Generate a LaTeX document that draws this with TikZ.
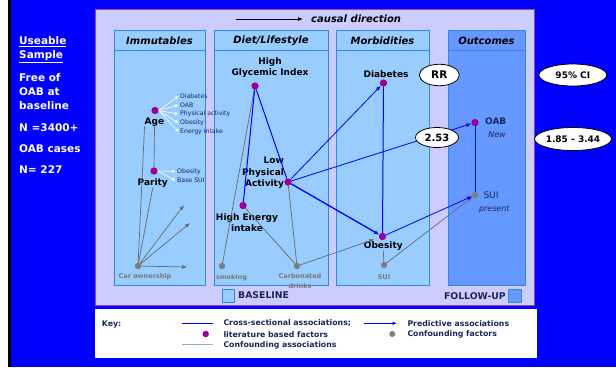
\documentclass[tikz,border=0pt]{standalone}
\usepackage{fontspec}
\setmainfont{DejaVu Sans}
\usetikzlibrary{arrows.meta,shapes.geometric,calc}

\definecolor{bgblue}{RGB}{0,0,255}
\definecolor{lav}{RGB}{204,204,255}
\definecolor{lavedge}{RGB}{160,64,176}
\definecolor{colfill}{RGB}{153,204,255}
\definecolor{coledge}{RGB}{51,136,230}
\definecolor{outfill}{RGB}{102,153,255}
\definecolor{dotpurple}{RGB}{153,0,153}
\definecolor{dotgray}{RGB}{125,125,125}
\definecolor{navy}{RGB}{26,38,90}
\definecolor{lblgray}{RGB}{120,120,120}
\definecolor{confline}{RGB}{105,105,105}

\tikzset{
  colbox/.style={draw=coledge, line width=0.9pt, fill=colfill},
  outbox/.style={draw=coledge, line width=0.9pt, fill=outfill},
  hdr/.style={font=\bfseries\itshape\fontsize{10}{12}\selectfont, inner sep=0pt},
  pdot/.style={circle, fill=dotpurple, inner sep=0pt, minimum size=7pt},
  gdot/.style={circle, fill=dotgray, inner sep=0pt, minimum size=6pt},
  blab/.style={font=\bfseries\fontsize{9}{11.5}\selectfont, align=center, inner sep=0pt},
  slab/.style={font=\fontsize{6.2}{7}\selectfont, text=navy, anchor=west, inner sep=0pt},
  glab/.style={font=\bfseries\fontsize{6.5}{10}\selectfont, text=lblgray, align=center, inner sep=0pt},
  side/.style={font=\bfseries\fontsize{10.5}{12}\selectfont, text=white, anchor=west, inner sep=0pt},
  keytxt/.style={font=\bfseries\fontsize{7.8}{9}\selectfont, text=navy, anchor=west, inner sep=0pt},
  cross/.style={draw=blue, line width=1pt},
  pred/.style={draw=blue, line width=0.8pt, -{Latex[length=5pt,width=4pt]}},
  conf/.style={draw=confline, line width=0.7pt},
  confarr/.style={conf, -{Latex[length=5pt,width=4pt]}},
  warr/.style={draw=white, line width=0.6pt, -{Latex[length=3.5pt,width=3.5pt]}},
  oval/.style={ellipse, draw=black, line width=0.8pt, fill=white, inner sep=0pt,
               font=\bfseries\fontsize{9}{10}\selectfont},
}

\begin{document}
\begin{tikzpicture}[x=1pt,y=-1pt]
\useasboundingbox (0,0) rectangle (616,367);

% page background and left strip
\fill[bgblue] (0,0) rectangle (616,367);
\fill[white] (0,0) rectangle (8,367);
\fill[black] (8,0) rectangle (11,367);

% main panel and key box
\filldraw[fill=lav, draw=lavedge, line width=1pt] (95,9) rectangle (534,305);
\fill[white] (95,309) rectangle (537,358);

% side notes
\node[side] (s1) at (19,42) {\underline{Useable}};
\node[side] (s2) at (19,57) {\underline{Sample}};
\node[side] (s3) at (19,78) {Free of};
\node[side] (s4) at (19,92) {OAB at};
\node[side] (s5) at (19,106) {baseline};
\node[side] (s6) at (19,128) {N =3400+};
\node[side] (s7) at (19,149) {OAB cases};
\node[side] (s8) at (19,170) {N= 227};

% causal direction
\coordinate (cd1) at (236,19);
\coordinate (cd2) at (303,19);
\draw[line width=0.8pt, -{Latex[length=5pt,width=4pt]}] (cd1) -- (cd2);
\node[hdr, anchor=west] (cdt) at (311,19) {causal direction};

% columns
\draw[colbox] (114,30) rectangle (205,285);
\draw[coledge, line width=0.9pt] (114,50) -- (205,50);
\draw[colbox] (214,30) rectangle (328,285);
\draw[coledge, line width=0.9pt] (214,50) -- (328,50);
\draw[colbox] (336,30) rectangle (429,285);
\draw[coledge, line width=0.9pt] (336,50) -- (429,50);
\draw[outbox] (448,30) rectangle (525,285);
\draw[coledge, line width=0.9pt] (448,50) -- (525,50);

\node[hdr] (h1) at (159.5,41) {Immutables};
\node[hdr] (h2) at (271,41) {Diet/Lifestyle};
\node[hdr] (h3) at (382.5,41) {Morbidities};
\node[hdr] (h4) at (486.5,41) {Outcomes};

% baseline / follow-up markers
\draw[colbox] (222,289) rectangle (234,302);
\node[font=\bfseries\fontsize{9.3}{10}\selectfont, text=navy, anchor=west, inner sep=0pt] (bl) at (238,295.5) {BASELINE};
\node[font=\bfseries\fontsize{9.3}{10}\selectfont, text=navy, anchor=east, inner sep=0pt] (fu) at (506,296) {FOLLOW-UP};
\draw[outbox] (508,289) rectangle (521,302);

% ---------- factor dots ----------
\node[pdot] (age) at (155,110.5) {};
\node[pdot] (par) at (154,171) {};
\node[gdot] (car) at (138,266) {};
\node[pdot] (hgi) at (255,86) {};
\node[pdot] (lpa) at (288,182) {};
\node[pdot] (hei) at (243,205.5) {};
\node[gdot] (smk) at (222,266) {};
\node[gdot] (carb) at (297,266) {};
\node[pdot] (dia) at (383.5,83) {};
\node[pdot] (obe) at (382.5,236.5) {};
\node[gdot] (suim) at (384,265) {};
\node[pdot] (oab) at (475,122.5) {};
\node[gdot] (suio) at (475,195) {};

% ---------- labels ----------
\node[blab] (agel) at (154.5,122) {Age};
\node[blab] (parl) at (152.7,183.3) {Parity};
\node[glab] (carl) at (145,277) {Car ownership};
\node[blab] (hgil) at (270,67.5) {High\\Glycemic Index};
\node[blab, align=right] (lpal) at (263,173) {\hspace*{8pt}Low\\Physical\\Activity};
\node[blab] (heil) at (247,222.5) {High Energy\\intake};
\node[glab] (smkl) at (231.5,277.3) {smoking};
\node[glab] (carbl) at (300,281) {Carbonated\\drinks};
\node[blab] (dial) at (386,74) {Diabetes};
\node[blab] (obel) at (383.3,245.7) {Obesity};
\node[glab] (suiml) at (384,277) {SUI};
\node[blab, text=navy] (oabl) at (495.7,121) {OAB};
\node[font=\itshape\fontsize{8}{9}\selectfont, text=navy, inner sep=0pt] (newl) at (497,135) {New};
\node[font=\fontsize{9}{10}\selectfont, text=navy, inner sep=0pt] (suiol) at (491,195.5) {SUI};
\node[font=\itshape\fontsize{8}{9}\selectfont, text=navy, inner sep=0pt] (presl) at (494.3,209.3) {present};

% outcomes listed beside Age and Parity
\node[slab] (a1) at (180,96) {Diabetes};
\node[slab] (a2) at (180,105) {OAB};
\node[slab] (a3) at (180,114) {Physical activity};
\node[slab] (a4) at (180,123) {Obesity};
\node[slab] (a5) at (180,132) {Energy intake};
\node[slab] (p1) at (177,171.5) {Obesity};
\node[slab] (p2) at (177,180.5) {Base SUI};

\foreach \t in {a1,a2,a3,a4,a5}
  \draw[warr] (age.east) -- ($(\t.west)+(-1.5,0)$);
\foreach \t in {p1,p2}
  \draw[warr] (par.east) -- ($(\t.west)+(-1.5,0)$);

% ---------- confounding associations ----------
\draw[conf] (agel.south west) -- (car);
\draw[conf] (agel.south) -- (par);
\draw[conf] (parl.south) -- (car);
\coordinate (ce1) at (184,205);
\coordinate (ce2) at (190,223);
\coordinate (ce3) at (187,267);
\draw[confarr] (car) -- (ce1);
\draw[confarr] (car) -- (ce2);
\draw[confarr] (car) -- (ce3);
\draw[conf] (hgi) -- (smk);
\draw[conf] (lpa) -- (carb);
\draw[conf] (hei) -- (carb);
\draw[confarr, shorten >=5pt] (carb) -- (obe);
\draw[conf] (suim) -- (obel.south);
\draw[confarr] (suim) -- (suio);

% ---------- cross-sectional associations ----------
\draw[cross] (hgi) -- (hei);
\draw[cross] (hgi) -- (lpa);
\draw[cross] (dia) -- (obe);
\draw[cross] (oab) -- (suio);

% ---------- predictive associations ----------
\draw[pred] (lpa) -- (dia);
\draw[pred] (lpa) -- (oab);
\draw[pred, line width=1.3pt] (lpa) -- (obe);
\draw[pred] (obe) -- (suio);

% redraw dots on top of the connectors
\foreach \n/\p in {age/{155,110.5},par/{154,171},hgi/{255,86},lpa/{288,182},hei/{243,205.5},dia/{383.5,83},obe/{382.5,236.5},oab/{475,122.5}}
  \fill[dotpurple] (\p) circle (3.5pt);
\foreach \n/\p in {car/{138,266},smk/{222,266},carb/{297,266},suim/{384,265},suio/{475,195}}
  \fill[dotgray] (\p) circle (3pt);

% ---------- statistics ----------
\node[oval, minimum width=40pt, minimum height=21.5pt, font=\bfseries\fontsize{10.5}{11}\selectfont] (rr) at (439.3,75) {RR};
\node[oval, minimum width=43pt, minimum height=20pt, font=\bfseries\fontsize{10}{11}\selectfont] (rrv) at (437,137.5) {2.53};
\node[oval, minimum width=68pt, minimum height=22pt] (ci) at (572.8,75) {95\% CI};
\node[oval, minimum width=68pt, minimum height=23pt] (civ) at (573,139) {1.85 - 3.44};

% ---------- key ----------
\node[keytxt] (key) at (101.7,324) {Key:};
\coordinate (k1a) at (182,323.3);
\coordinate (k1b) at (213,323.3);
\draw[draw=blue, line width=0.8pt] (k1a) -- (k1b);
\node[keytxt] (kt1) at (223.3,323.3) {Cross-sectional associations;};
\coordinate (k2a) at (364,323.3);
\coordinate (k2b) at (397,323.3);
\draw[draw=blue, line width=0.8pt, -{Latex[length=4.5pt,width=3.5pt]}] (k2a) -- (k2b);
\node[keytxt] (kt2) at (407.3,323.3) {Predictive associations};
\node[pdot, minimum size=6.5pt] (kd1) at (205.7,334) {};
\node[keytxt] (kt3) at (223.3,334.3) {literature based factors};
\node[gdot] (kd2) at (392.3,334) {};
\node[keytxt] (kt4) at (407.3,334.3) {Confounding factors};
\coordinate (k3a) at (182,344);
\coordinate (k3b) at (213,344);
\draw[draw=gray!70, line width=0.8pt] (k3a) -- (k3b);
\node[keytxt] (kt5) at (223.3,345.3) {Confounding associations};
\end{tikzpicture}
\end{document}
